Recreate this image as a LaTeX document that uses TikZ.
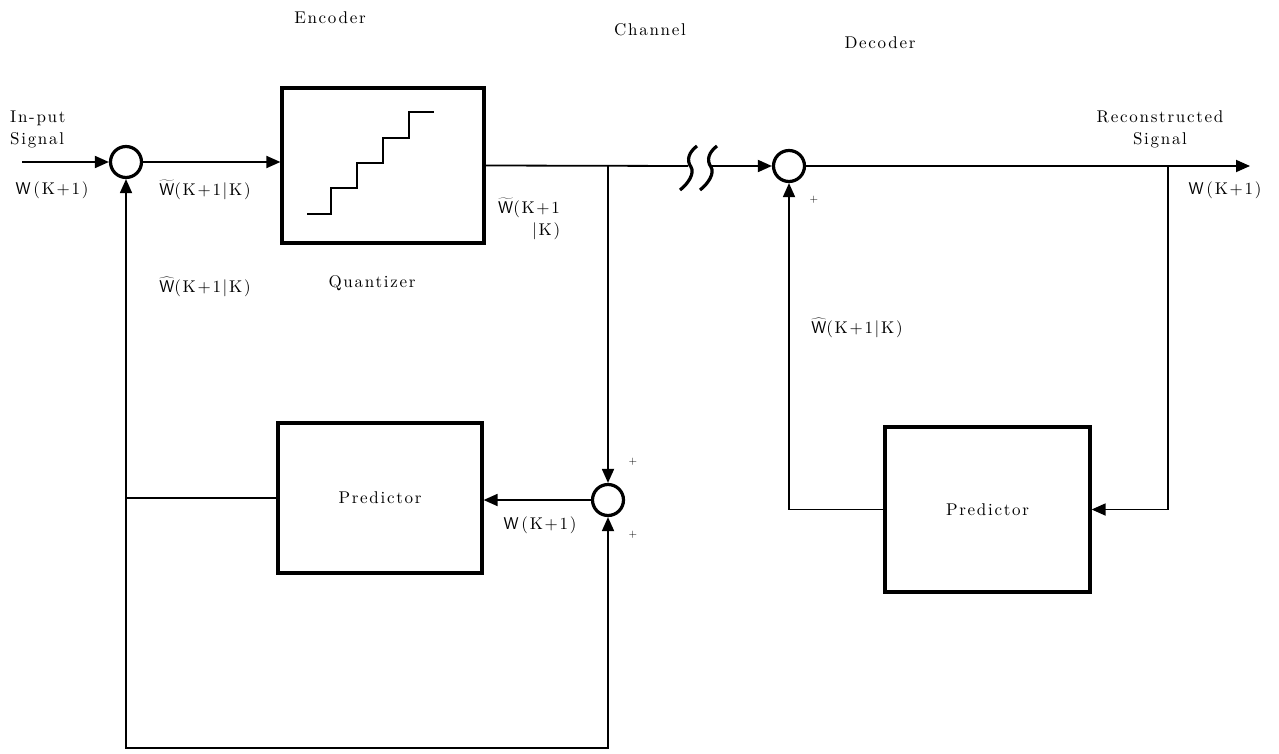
\documentclass[tikz,border=0pt]{standalone}
\usepackage{fontspec}
\setmainfont{lmroman10-regular.otf}[LetterSpace=10]
\usetikzlibrary{arrows.meta}
\begin{document}
\begin{tikzpicture}[x=1pt,y=-1pt,
  every node/.style={font=\fontsize{17}{22}\selectfont},
  blk/.style={draw, line width=3.2pt, rectangle, inner sep=0pt},
  sumj/.style={draw, circle, line width=3.2pt, minimum size=31pt, inner sep=0pt},
  wire/.style={line width=1.8pt},
  arr/.style={wire, -{Triangle[length=14pt,width=12pt]}},
  lbl/.style={inner sep=0pt, align=left},
  brk/.style={line width=3.2pt},
  stair/.style={line width=2.4pt},
  sgn/.style={font=\fontsize{11}{12}\selectfont, inner sep=0pt}]
\useasboundingbox (0,0) rectangle (1279,754);

% blocks
\node[sumj] (s1) at (126,162) {};
\node[blk, minimum width=202pt, minimum height=155pt] (q) at (383,165.5) {};
\node[sumj] (s3) at (789,166) {};
\node[sumj] (s2) at (608,500) {};
\node[blk, minimum width=204pt, minimum height=150pt] (pe) at (380,498) {Predictor};
\node[blk, minimum width=205pt, minimum height=165pt] (pd) at (987.5,509.5) {Predictor};

% quantizer staircase
\draw[stair] (307,214) -- (331,214) -- (331,188) -- (357,188) -- (357,163)
  -- (383,163) -- (383,138) -- (409,138) -- (409,112) -- (434,112);

% coordinates
\coordinate (in) at (22,162);
\coordinate (b1) at (688,166);
\coordinate (b2) at (710,166);
\coordinate (j1) at (608,166);
\coordinate (j2) at (1168,166);
\coordinate (out) at (1250,166);
\coordinate (bot) at (608,748);

% connectors
\draw[arr] (in) -- (s1.west);
\draw[arr] (s1.east) -- (s1.east -| q.west);
\draw[wire] (q.east) -- (b1);
\draw[arr] (j1) -- (s2.north);
\draw[arr] (b2) -- (s3.west);
\draw[arr] (s3.east) -- (out);
\draw[arr] (j2) |- (pd.east);
\draw[arr] (pd.west) -| (s3.south);
\draw[arr] (s2.west) -- (s2.west -| pe.east);
\draw[arr] (pe.west) -| (s1.south);
\draw[arr] (pe.west -| s1.south) |- (bot) -- (s2.south);

% channel break
\draw[brk] (697,146) .. controls (689,152) and (686,160) .. (691,167)
  .. controls (695,173) and (688,184) .. (680,190);
\draw[brk] (717,146) .. controls (709,152) and (706,160) .. (711,167)
  .. controls (715,173) and (708,184) .. (700,190);

% titles
\node (tenc) at (330,18) {Encoder};
\node (tch) at (650,30) {Channel};
\node (tdec) at (880,43) {Decoder};

% labels
\node[lbl, anchor=west] (lin) at (10,129) {In-put\\Signal};
\node (lwin) at (52,190) {\textsf{W}\,(K+1)};
\node (lwt) at (205,190) {$\widetilde{\textsf{W}}$(K+1|K)};
\node[lbl, anchor=north west] (lwt2) at (498,198) {$\widetilde{\textsf{W}}$(K+1\\\hspace{34pt}|K)};
\node (lq) at (372,283) {Quantizer};
\node (lwh) at (205,287) {$\widehat{\textsf{W}}$(K+1|K)};
\node (lw2) at (540,525) {\textsf{W}\,(K+1)};
\node[sgn] (sp1) at (633,462) {+};
\node[sgn] (sp2) at (633,535) {+};
\node[sgn] (sp3) at (814,200) {+};
\node (lwh2) at (857,328) {$\widehat{\textsf{W}}$(K+1|K)};
\node[align=center] (lrec) at (1160,129) {Reconstructed\\Signal};
\node (lwout) at (1225,190) {\textsf{W}\,(K+1)};
\end{tikzpicture}
\end{document}
